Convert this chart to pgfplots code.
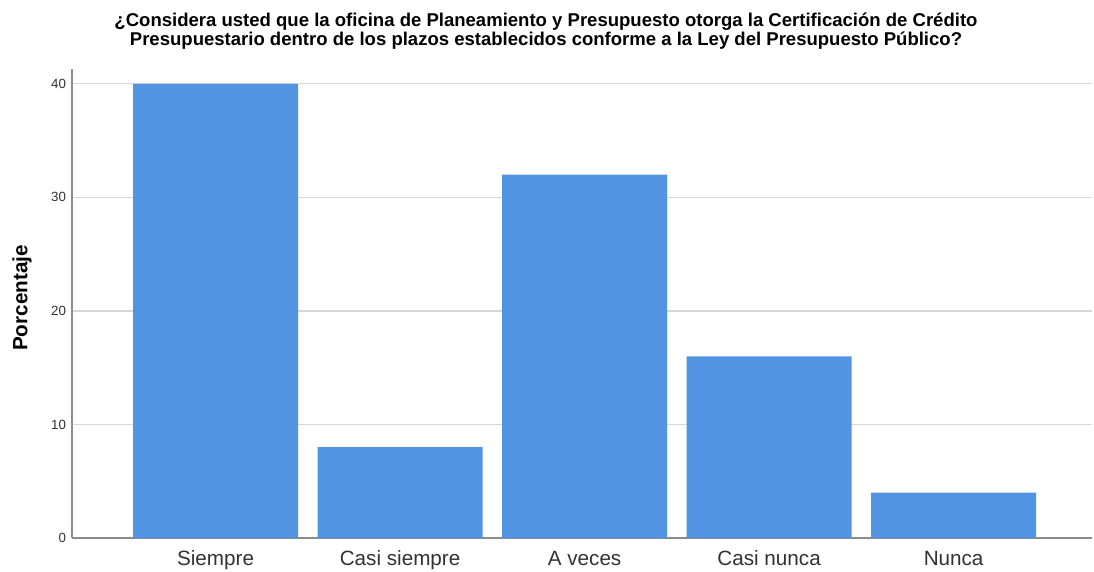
\documentclass[border=0pt]{standalone}
\usepackage{pgfplots}
\pgfplotsset{compat=1.18}
\usepackage{fontspec}
\setmainfont{Liberation Sans}
\definecolor{barblue}{RGB}{83,148,226}
\definecolor{gridgray}{RGB}{215,215,215}
\definecolor{axisgray}{RGB}{140,140,140}
\definecolor{labgray}{RGB}{50,50,50}
\begin{document}
\begin{tikzpicture}
\useasboundingbox (0,0) rectangle (820.5pt,428.25pt);
\node[font=\fontsize{13.9}{16}\selectfont\bfseries, align=center, inner sep=0pt] at (409.5pt,405pt)
  {¿Considera usted que la oficina de Planeamiento y Presupuesto otorga la Certificación de Crédito\\[-2pt]
   Presupuestario dentro de los plazos establecidos conforme a la Ley del Presupuesto Público?};
\node[font=\fontsize{15.5}{18}\selectfont\bfseries, rotate=90, inner sep=0pt] at (16.5pt,204.75pt) {Porcentaje};
\begin{axis}[
  at={(54pt,24.75pt)}, anchor=south west,
  scale only axis, width=765pt, height=351.75pt,
  xmin=-0.778, xmax=4.75, ymin=0, ymax=41.3,
  axis lines*=left,
  axis line style={axisgray, line width=1pt},
  ytick={0,10,20,30,40},
  xtick={0,1,2,3,4},
  xticklabels={Siempre,Casi siempre,A veces,Casi nunca,Nunca},
  major tick length=0pt,
  ymajorgrids, grid style={gridgray, line width=1pt},
  tick label style={text=labgray},
  /pgf/number format/assume math mode=true,
  yticklabel style={font=\fontsize{10}{12}\selectfont, xshift=-1pt},
  xticklabel style={font=\fontsize{15.5}{18}\selectfont, anchor=base, yshift=-20.5pt},
]
\addplot[ybar, bar width=0.894, fill=barblue, draw=none] coordinates {(0,40) (1,8) (2,32) (3,16) (4,4)};
\end{axis}
\end{tikzpicture}
\end{document}
